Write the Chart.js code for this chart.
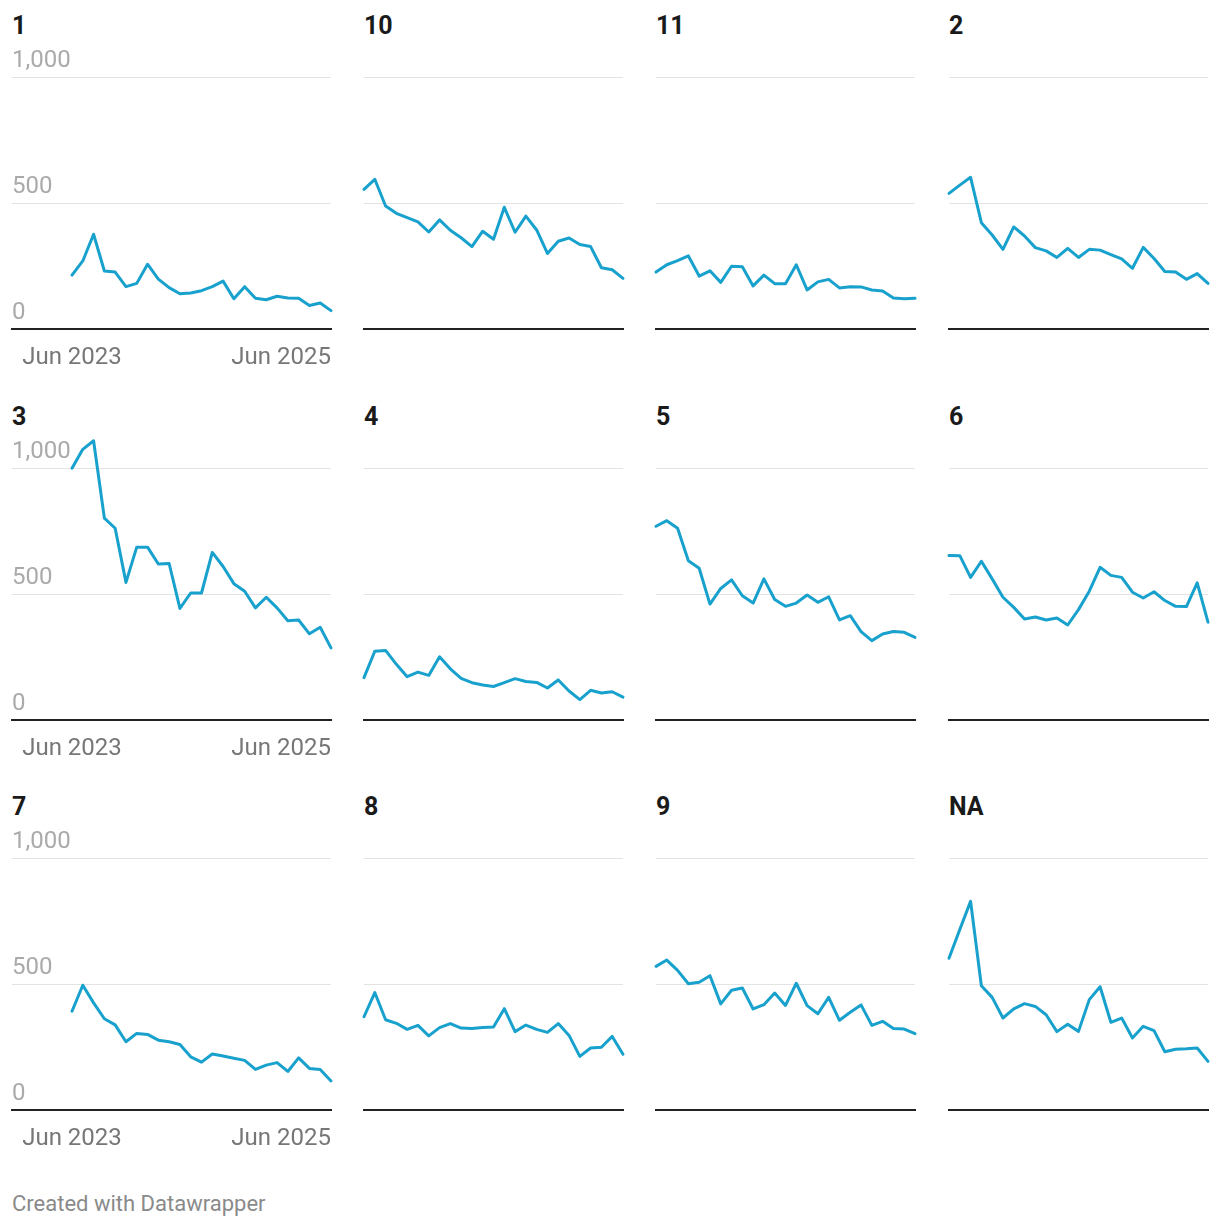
<!DOCTYPE html>
<html>
<head>
<meta charset="utf-8">
<script src="https://cdn.jsdelivr.net/npm/chart.js@4.4.1/dist/chart.umd.min.js"></script>
<style>
  body { margin: 0; background: #fff; font-family: Roboto, sans-serif; }
  #wrap { position: relative; width: 1220px; height: 1228px; }
  .title { position: absolute; font: bold 25px/24px Roboto, sans-serif; color: #1a1a1a; }
  canvas { position: absolute; }
  #footer { position: absolute; left: 12px; top: 1192px; font: 22px/24px Roboto, sans-serif; color: #8a8a8a; }
</style>
</head>
<body>
<div id="wrap"><div id="footer">Created with Datawrapper</div></div>
<script>
// monthly points, Jun 2023 - Jun 2025
const months = ['Jun 2023', 'Jul 2023', 'Aug 2023', 'Sep 2023', 'Oct 2023', 'Nov 2023', 'Dec 2023',
    'Jan 2024', 'Feb 2024', 'Mar 2024', 'Apr 2024', 'May 2024', 'Jun 2024', 'Jul 2024', 'Aug 2024',
    'Sep 2024', 'Oct 2024', 'Nov 2024', 'Dec 2024', 'Jan 2025', 'Feb 2025', 'Mar 2025', 'Apr 2025',
    'May 2025', 'Jun 2025'];
const xTickMonths = ['Jun 2023', 'Jun 2025'];
const yTicks = [0, 500, 1000];

const panelNames = ['1', '10', '11', '2', '3', '4', '5', '6', '7', '8', '9', 'NA'];

const s1 = [214, 270, 376, 230, 226, 168, 181, 257, 198, 164, 140, 143, 152, 168, 190, 120, 168, 122, 116, 130, 123, 122, 93, 103, 73];
const s10 = [554, 594, 488, 459, 442, 425, 385, 433, 392, 362, 327, 388, 356, 483, 384, 448, 393, 300, 348, 361, 335, 327, 243, 235, 201];
const s11 = [226, 255, 271, 290, 210, 231, 185, 249, 247, 171, 214, 180, 180, 255, 155, 187, 197, 163, 168, 167, 155, 151, 123, 120, 122];
const s2 = [538, 571, 602, 422, 373, 316, 405, 369, 323, 310, 284, 320, 284, 316, 313, 295, 278, 241, 324, 280, 228, 226, 197, 220, 181];
const s3 = [999, 1074, 1108, 801, 761, 546, 686, 686, 619, 621, 443, 504, 504, 665, 609, 541, 511, 445, 487, 445, 394, 397, 342, 368, 286];
const s4 = [168, 273, 276, 221, 172, 190, 177, 251, 203, 165, 148, 139, 133, 148, 164, 153, 149, 127, 159, 115, 81, 118, 107, 112, 91];
const s5 = [769, 791, 761, 632, 602, 460, 522, 556, 493, 464, 560, 478, 451, 464, 496, 467, 489, 397, 414, 351, 315, 341, 351, 348, 328];
const s6 = [653, 652, 566, 630, 560, 487, 447, 401, 409, 397, 405, 377, 438, 511, 606, 574, 566, 507, 484, 509, 474, 451, 450, 544, 388];
const s7 = [392, 495, 425, 362, 338, 271, 304, 300, 277, 271, 260, 211, 190, 222, 214, 205, 197, 161, 178, 188, 153, 207, 165, 161, 115];
const s8 = [370, 466, 358, 344, 320, 336, 294, 327, 343, 325, 323, 327, 329, 402, 311, 337, 320, 308, 343, 296, 213, 246, 249, 292, 221];
const s9 = [570, 595, 554, 501, 507, 533, 421, 475, 484, 401, 418, 464, 415, 503, 414, 382, 447, 356, 388, 417, 336, 352, 323, 321, 303];
const sNA = [602, 716, 828, 493, 447, 365, 401, 422, 411, 378, 311, 340, 312, 438, 489, 348, 365, 286, 332, 315, 231, 241, 243, 246, 193];

const panelSeries = [s1, s10, s11, s2, s3, s4, s5, s6, s7, s8, s9, sNA];

// layout
const colLeft = [12, 364, 656, 949];
const dataWidth = 259;
const gutter = 60;          // room for y labels in first column
const rowTop = [77, 468, 858]; // y of the 1,000 gridline
const plotH = 252;
const padTop = 45, padSide = 4, axisH = 45;

const wrap = document.getElementById('wrap');

panelSeries.forEach((values, i) => {
    const col = i % 4, row = Math.floor(i / 4);
    const first = col === 0;
    const plotW = first ? dataWidth + gutter : dataWidth;
    const xMin = first ? -gutter / (dataWidth / (months.length - 1)) : 0;

    const title = document.createElement('div');
    title.className = 'title';
    title.textContent = panelNames[i];
    title.style.left = colLeft[col] + 'px';
    title.style.top = (rowTop[row] - 63) + 'px';
    wrap.appendChild(title);

    const cv = document.createElement('canvas');
    cv.width = plotW + padSide * 2;
    cv.height = padTop + plotH + axisH;
    cv.style.left = (colLeft[col] - padSide) + 'px';
    cv.style.top = (rowTop[row] - padTop) + 'px';
    wrap.appendChild(cv);

    new Chart(cv, {
        type: 'line',
        data: {
            datasets: [{
                data: values.map((v, k) => ({x: k, y: v})),
                borderColor: '#18a1cd',
                borderWidth: 3,
                pointRadius: 0,
                tension: 0,
                clip: false,
                borderJoinStyle: 'round',
                borderCapStyle: 'round'
            }]
        },
        options: {
            responsive: false,
            animation: false,
            layout: {padding: {left: padSide, right: padSide, top: padTop, bottom: 0}},
            plugins: {legend: {display: false}, tooltip: {enabled: false}},
            scales: {
                x: {
                    type: 'linear',
                    min: xMin,
                    max: months.length - 1,
                    grid: {display: false},
                    border: {display: true, color: '#222', width: 2},
                    afterBuildTicks: s => {
                        s.ticks = first ? [{value: xMin}].concat(xTickMonths.map(m => ({value: months.indexOf(m)}))) : [];
                    },
                    afterFit: s => {
                        s.height = axisH;
                        s.paddingLeft = 0;
                        s.paddingRight = 0;
                    },
                    ticks: {
                        display: first,
                        autoSkip: false,
                        maxRotation: 0,
                        align: 'inner',
                        padding: 7,
                        color: '#777',
                        font: {size: 24, family: 'Roboto'},
                        callback: v => months[v] || ''
                    }
                },
                y: {
                    min: 0,
                    max: 1000,
                    afterBuildTicks: s => { s.ticks = yTicks.map(v => ({value: v})); },
                    afterFit: s => {
                        s.width = 0;
                        s.paddingTop = 0;
                        s.paddingBottom = 0;
                    },
                    grid: {color: '#e3e3e3', lineWidth: 1, drawTicks: false},
                    border: {display: false},
                    ticks: {
                        display: first,
                        mirror: true,
                        padding: 0,
                        labelOffset: -16,
                        color: '#aaa',
                        font: {size: 24, family: 'Roboto'},
                        callback: v => v.toLocaleString('en-US')
                    }
                }
            }
        }
    });
});
</script>
</body>
</html>
